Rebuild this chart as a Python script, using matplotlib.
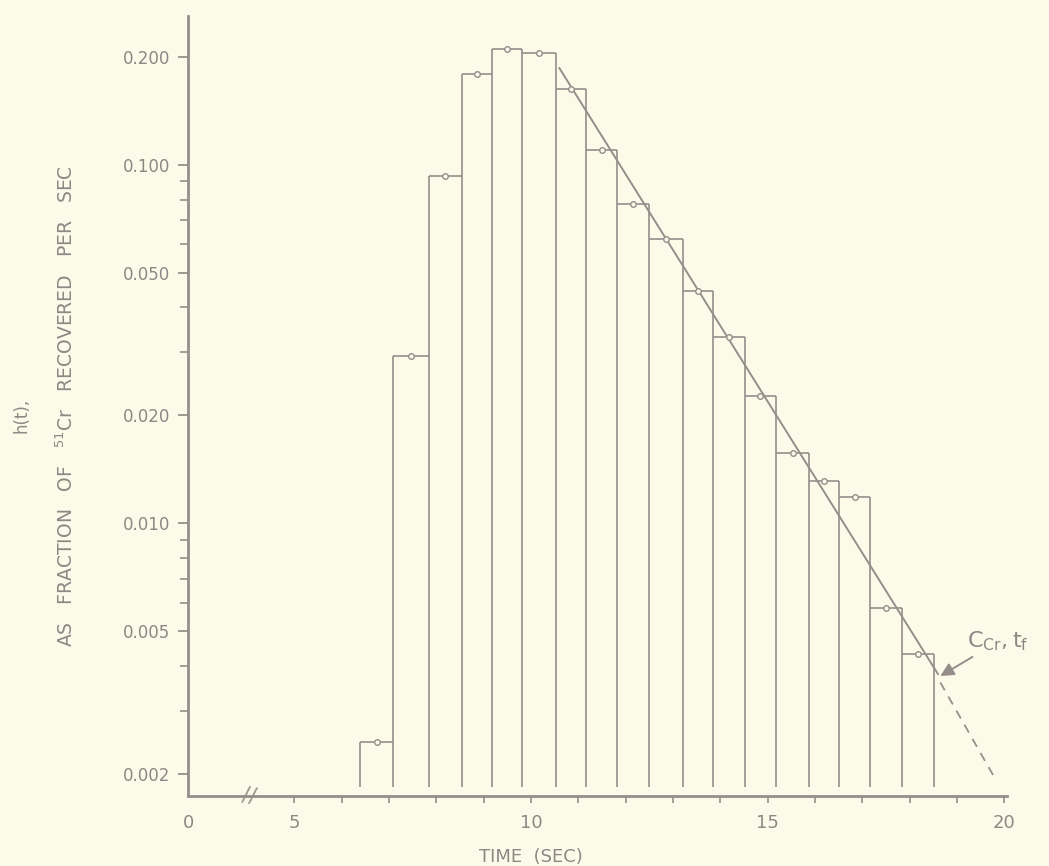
import matplotlib
matplotlib.use('Agg')
import matplotlib.pyplot as plt
import matplotlib.transforms as mtransforms
import numpy as np

# bin edges (sec) and h(t) values
edges = [6.39, 7.08, 7.84, 8.54, 9.18, 9.81, 10.53, 11.16, 11.82, 12.49,
         13.21, 13.85, 14.52, 15.18, 15.88, 16.51, 17.17, 17.84, 18.52]
h_vals = [0.00246, 0.0293, 0.0932, 0.179, 0.2105, 0.205, 0.163, 0.110, 0.0778,
          0.0622, 0.0446, 0.0330, 0.0227, 0.0157, 0.0131, 0.01186, 0.0058, 0.00432]
bar_floor = 0.00184

# fitted exponential tail (straight on log axis) and dashed extrapolation
fit_t = [10.6, 18.6]
fit_h = [0.186, 0.0038]
ext_t = [18.65, 19.8]
ext_h = [0.0036, 0.00195]

yticks = [0.002, 0.005, 0.010, 0.020, 0.050, 0.100, 0.200]
yticklabels = ['0.002', '0.005', '0.010', '0.020', '0.050', '0.100', '0.200']
yminor = [0.003, 0.004, 0.006, 0.007, 0.008, 0.009, 0.03, 0.04, 0.06, 0.07, 0.08, 0.09]
x_origin = 2.75   # axis is broken between 0 and 5
xticks = [x_origin, 5, 10, 15, 20]
xticklabels = ['0', '5', '10', '15', '20']
xminor = [6, 7, 8, 9, 11, 12, 13, 14, 16, 17, 18, 19]

bg = '#fcfae9'
ink = '#968e8b'
txt = '#8e8885'

fig = plt.figure(figsize=(10.49, 8.66), dpi=100, facecolor=bg)
ax = fig.add_axes([188/1049, 1-796/866, 819/1049, 780/866])
ax.set_facecolor(bg)
ax.set_yscale('log')
ax.set_xlim(x_origin, 20.06)
ax.set_ylim(0.001736, 0.26)

# histogram outline: tops + vertical edges (open at the bottom)
e = np.array(edges)
v = np.array(h_vals)
left_h = np.concatenate([[0], v])
right_h = np.concatenate([v, [0]])
edge_top = np.maximum(left_h, right_h)
ax.vlines(e, bar_floor, edge_top, color=ink, lw=1.2)
ax.hlines(v, e[:-1], e[1:], color=ink, lw=1.2)
mids = (e[:-1] + e[1:]) / 2
ax.plot(mids, v, 'o', ms=4, mfc=bg, mec=ink, mew=1.0, zorder=5)

ax.plot(fit_t, fit_h, color=ink, lw=1.4)
ax.plot(ext_t, ext_h, color=ink, lw=1.3, linestyle=(0, (5, 4)))

ax.annotate(r'$\mathregular{C_{Cr}, t_f}$', xy=(18.65, 0.00375), xytext=(19.22, 0.00468),
            fontsize=16, color=txt, ha='left', va='center',
            arrowprops=dict(arrowstyle='-|>', color=ink, lw=1.4, mutation_scale=20,
                            shrinkA=1, shrinkB=0))

for s in ['top', 'right']:
    ax.spines[s].set_visible(False)
for s in ['left', 'bottom']:
    ax.spines[s].set_color(ink)
    ax.spines[s].set_linewidth(2.0)

ax.set_yticks(yticks)
ax.set_yticklabels(yticklabels)
ax.set_yticks(yminor, minor=True)
ax.set_yticklabels([], minor=True)
ax.set_xticks(xticks)
ax.set_xticklabels(xticklabels)
ax.set_xticks(xminor, minor=True)
ax.xaxis.get_major_ticks()[0].tick1line.set_visible(False)

ax.tick_params(axis='y', which='major', direction='out', length=7, width=1.3,
               color=ink, labelcolor=txt, labelsize=12, pad=6)
ax.tick_params(axis='y', which='minor', direction='out', length=6, width=1.2, color=ink)
ax.tick_params(axis='x', which='major', direction='out', length=5, width=1.2,
               color=ink, labelcolor=txt, labelsize=13, pad=8)
ax.tick_params(axis='x', which='minor', direction='out', length=5, width=1.2, color=ink)

# axis break mark
trans = mtransforms.blended_transform_factory(ax.transData, ax.transAxes)
ax.text(4.05, 0.0, '//', transform=trans, ha='center', va='center', fontsize=15,
        color=ink, clip_on=False, rotation=-10)

fig.text(531/1049, 1-857/866, 'TIME  (SEC)', ha='center', va='center', fontsize=13, color=txt)
fig.text(22/1049, 1-415/866, 'h(t),', rotation=90, ha='center', va='center', fontsize=12, color=txt)
fig.text(66/1049, 1-406/866, r'AS   FRACTION   OF   $^{51}$Cr   RECOVERED   PER   SEC', rotation=90,
         ha='center', va='center', fontsize=13.5, color=txt)

fig.savefig('out.png', dpi=100, facecolor=bg)
